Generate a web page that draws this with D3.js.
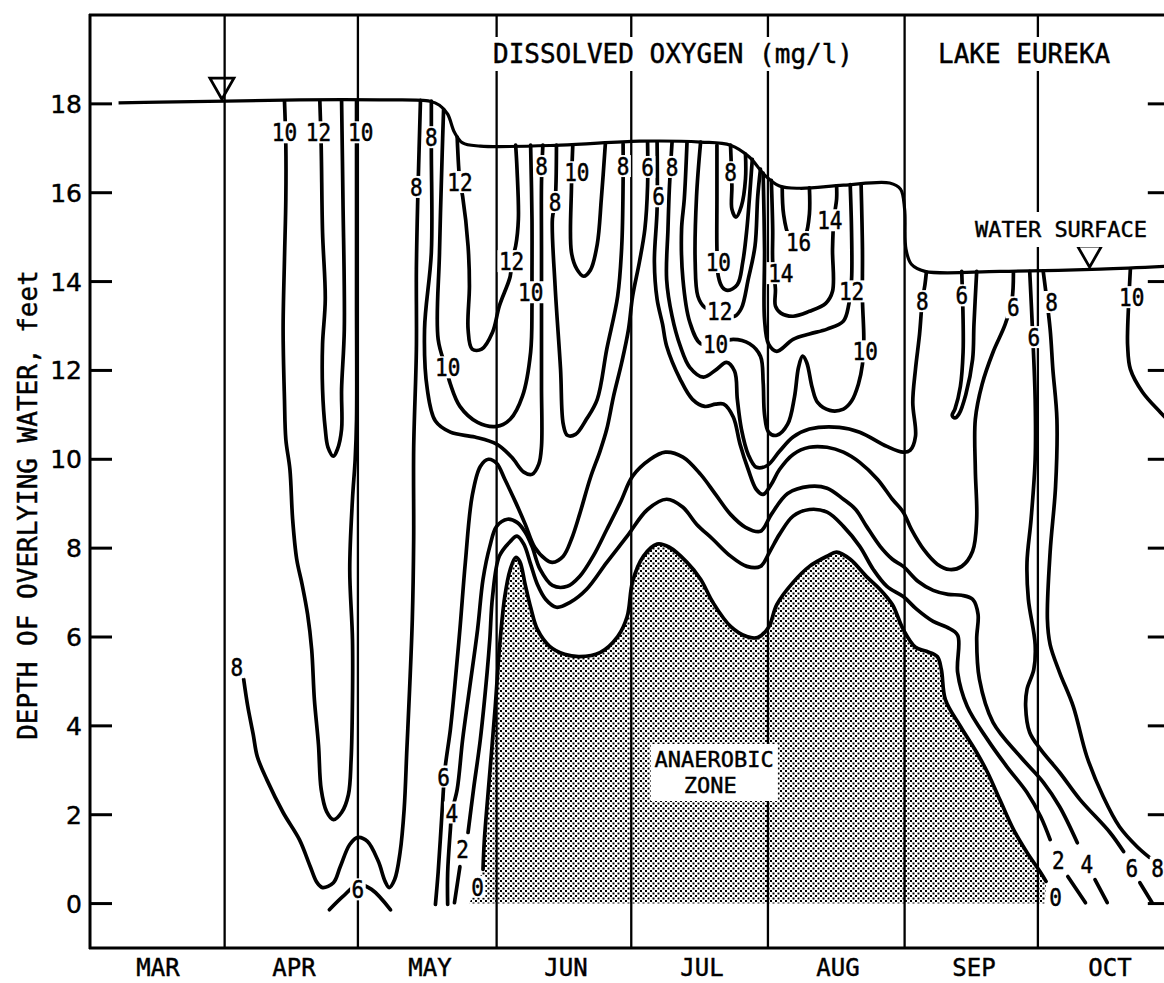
<!DOCTYPE html>
<html>
<head>
<meta charset="utf-8">
<script src="https://cdn.jsdelivr.net/npm/d3@7"></script>
<style>
  html, body { margin: 0; padding: 0; background: #fff; }
  svg { display: block; }
  text { font-family: "DejaVu Sans Mono", monospace; fill: #000; stroke: #000; stroke-width: 0.45px; }
</style>
</head>
<body>
<svg id="chart" width="1164" height="983"></svg>
<script>
// ---- Axes data -------------------------------------------------------------
// x is time in months from 1 March (MAR = 0..1, APR = 1..2, ...), y is depth of overlying water in feet
const months = ["MAR", "APR", "MAY", "JUN", "JUL", "AUG", "SEP", "OCT"];
const depthTicks = [0, 2, 4, 6, 8, 10, 12, 14, 16, 18];
const samplingDates = [0.99, 1.97, 2.99, 3.98, 4.985, 5.99, 6.97];

// ---- Water surface (depth of overlying water, ft) -------------------------
const waterSurface = [[0.21,18.02],[0.51,18.04],[1.00,18.06],[1.54,18.09],[2.13,18.09],[2.50,18.06],[2.57,17.97],[2.63,17.77],[2.68,17.36],[2.74,17.12],[2.87,17.05],[3.46,17.07],[4.04,17.16],[4.49,17.14],[4.71,17.07],[4.85,16.80],[4.96,16.40],[5.07,16.15],[5.22,16.10],[5.54,16.17],[5.88,16.22],[5.96,16.08],[5.99,15.63],[6.00,14.73],[6.04,14.39],[6.14,14.23],[6.69,14.23],[7.43,14.28],[7.94,14.35]];
const surfaceMarks = [[0.97, 18.06], [7.35, 14.28]];

// ---- Dissolved-oxygen isopleths (mg/l) ------------------------------------
const do10Apr = [[1.43,18.07],[1.44,17.07],[1.44,15.86],[1.43,14.50],[1.42,12.93],[1.43,11.35],[1.44,10.45],[1.47,9.77],[1.49,8.65],[1.52,7.75],[1.56,7.18],[1.60,6.51],[1.63,5.72],[1.65,4.59],[1.68,3.58],[1.70,2.57],[1.74,2.07],[1.79,1.89],[1.85,2.05],[1.90,2.45],[1.92,3.24],[1.93,4.59],[1.93,5.95],[1.91,7.52],[1.93,9.10],[1.95,10.0],[1.96,10.90],[1.96,13.60],[1.96,15.86],[1.96,17.07],[1.96,18.07]];
const do12Apr = [[1.69,18.07],[1.70,17.05],[1.71,15.11],[1.73,13.60],[1.71,12.59],[1.71,11.58],[1.73,10.68],[1.75,10.27],[1.79,10.07],[1.82,10.23],[1.85,10.68],[1.85,11.58],[1.87,12.93],[1.86,15.86],[1.85,18.07]];
const do8Apr = [[1.13,5.05],[1.16,4.44],[1.20,3.81],[1.23,3.31],[1.30,2.79],[1.42,2.05],[1.54,1.44],[1.62,0.83],[1.67,0.47],[1.71,0.36],[1.79,0.47],[1.84,0.83],[1.91,1.33],[1.97,1.49],[2.04,1.40],[2.12,0.95],[2.17,0.50],[2.20,0.36],[2.24,0.54],[2.28,1.15],[2.31,2.12],[2.33,3.47],[2.35,4.82],[2.37,6.40],[2.38,8.20],[2.38,10.23],[2.40,12.48],[2.40,14.28],[2.41,15.86],[2.42,16.98],[2.43,18.08]];
const do6Apr = [[1.76,-0.14],[1.86,0.16],[1.97,0.43],[2.07,0.32],[2.21,-0.14]];
const do8May = [[2.51,18.06],[2.51,16.91],[2.51,14.66],[2.46,12.93],[2.48,11.58],[2.54,10.86],[2.65,10.61],[2.83,10.50],[2.99,10.34],[3.10,10.05],[3.19,9.71],[3.25,9.66],[3.30,9.89],[3.32,10.29],[3.32,11.64],[3.32,13.15],[3.32,14.73],[3.32,16.24],[3.33,17.07]];
const do10May = [[2.60,17.87],[2.59,16.91],[2.57,14.66],[2.56,12.70],[2.62,12.03],[2.65,11.69],[2.72,11.19],[2.85,10.83],[2.99,10.74],[3.09,10.90],[3.18,11.42],[3.24,12.41],[3.25,13.45],[3.25,14.05],[3.25,15.41],[3.24,17.07]];
const do12May = [[2.70,17.25],[2.72,16.24],[2.74,15.92],[2.78,14.80],[2.79,13.90],[2.78,12.93],[2.81,12.48],[2.88,12.48],[2.96,12.86],[3.01,13.45],[3.09,14.12],[3.10,14.46],[3.13,14.80],[3.15,15.41],[3.14,16.53],[3.13,17.07]];
const do8Jun = [[3.43,17.07],[3.42,15.79],[3.40,15.41],[3.42,13.90],[3.46,12.03],[3.48,10.79],[3.51,10.54],[3.57,10.56],[3.65,10.90],[3.73,11.35],[3.80,12.48],[3.88,13.67],[3.91,14.80],[3.92,16.24],[3.92,17.10]];
const do10Jun = [[3.55,17.07],[3.54,16.08],[3.54,14.66],[3.58,14.28],[3.63,14.12],[3.68,14.26],[3.73,14.84],[3.76,15.86],[3.79,17.12]];
const do6Jun = [[2.54,-0.02],[2.56,0.70],[2.59,2.12],[2.61,3.02],[2.65,3.92],[2.68,4.82],[2.72,6.17],[2.76,7.68],[2.81,9.17],[2.87,9.84],[2.93,10.0],[2.99,9.91],[3.05,9.55],[3.13,9.03],[3.20,8.54],[3.27,8.02],[3.35,7.75],[3.40,7.68],[3.48,7.82],[3.54,8.20],[3.60,8.76],[3.68,9.59],[3.75,10.18],[3.80,10.68],[3.85,11.42],[3.91,12.18],[3.96,12.93],[3.99,13.67],[4.04,14.44],[4.08,15.18],[4.10,16.15],[4.10,17.14]];
const do4 = [[2.63,-0.02],[2.63,0.70],[2.65,1.67],[2.66,2.05],[2.70,2.57],[2.74,3.69],[2.79,4.82],[2.85,6.17],[2.89,7.30],[2.94,8.04],[2.99,8.49],[3.07,8.65],[3.14,8.58],[3.20,8.36],[3.25,8.04],[3.31,7.52],[3.40,7.16],[3.51,7.14],[3.60,7.36],[3.70,7.82],[3.80,8.42],[3.90,9.03],[3.99,9.62],[4.12,10.0],[4.23,10.16],[4.36,10.05],[4.49,9.66],[4.60,9.21],[4.71,8.76],[4.82,8.47],[4.93,8.38],[5.01,8.76],[5.13,9.23],[5.29,9.39],[5.42,9.35],[5.54,9.10],[5.63,8.87],[5.71,8.49],[5.81,8.04],[5.90,7.75],[5.98,7.59],[6.09,7.25],[6.20,7.05],[6.31,6.96],[6.41,6.94],[6.49,6.85],[6.53,6.51],[6.52,5.95],[6.54,5.05],[6.64,4.08],[6.84,3.31],[7.01,2.73],[7.13,2.18],[7.26,1.37]];
const do2 = [[2.78,1.60],[2.82,2.57],[2.87,3.69],[2.92,5.20],[2.94,5.95],[2.96,6.91],[3.01,7.82],[3.09,8.15],[3.14,8.27],[3.19,8.09],[3.24,7.64],[3.29,7.18],[3.35,6.85],[3.43,6.67],[3.53,6.78],[3.65,7.07],[3.80,7.68],[3.95,8.27],[4.10,8.87],[4.24,9.10],[4.36,8.92],[4.46,8.54],[4.58,8.20],[4.71,7.82],[4.83,7.59],[4.93,7.59],[5.00,7.93],[5.07,8.31],[5.17,8.72],[5.29,8.87],[5.42,8.81],[5.54,8.49],[5.66,8.04],[5.76,7.52],[5.86,7.14],[5.98,6.91],[6.08,6.62],[6.20,6.35],[6.30,6.22],[6.38,6.04],[6.38,5.20],[6.45,4.44],[6.60,3.69],[6.74,3.09],[6.89,2.50],[6.99,1.96],[7.06,1.44]];
const do0 = [[2.89,0.77],[2.90,1.44],[2.94,2.95],[2.98,4.44],[3.01,5.72],[3.05,6.91],[3.09,7.52],[3.13,7.79],[3.16,7.70],[3.20,7.18],[3.24,6.67],[3.29,6.17],[3.38,5.79],[3.49,5.61],[3.60,5.56],[3.75,5.65],[3.88,6.01],[3.95,6.46],[3.99,7.25],[4.07,7.82],[4.17,8.09],[4.26,8.02],[4.39,7.68],[4.49,7.30],[4.58,6.78],[4.71,6.24],[4.83,6.01],[4.91,5.99],[4.99,6.22],[5.05,6.73],[5.17,7.23],[5.29,7.59],[5.42,7.82],[5.49,7.91],[5.59,7.75],[5.71,7.36],[5.81,7.07],[5.90,6.73],[5.98,6.17],[6.07,5.77],[6.15,5.68],[6.23,5.56],[6.26,5.27],[6.29,4.59],[6.40,3.99],[6.52,3.40],[6.60,2.95],[6.69,2.34],[6.79,1.67],[6.89,1.15],[6.99,0.70],[7.03,0.50]];
const do6Jul = [[4.17,17.14],[4.17,15.63],[4.15,14.44],[4.17,13.60],[4.21,13.04],[4.24,12.55],[4.34,11.80],[4.43,11.35],[4.52,11.19],[4.60,11.24],[4.66,11.24],[4.73,10.95],[4.78,10.34],[4.84,9.77],[4.90,9.32],[4.95,9.21],[5.01,9.44],[5.07,9.77],[5.17,10.11],[5.29,10.27],[5.42,10.27],[5.54,10.16],[5.66,9.93],[5.79,9.55],[5.90,9.10],[5.98,8.81],[6.04,8.42],[6.13,7.97],[6.23,7.64],[6.32,7.52],[6.41,7.59],[6.49,7.93],[6.52,8.65],[6.51,9.77],[6.51,10.90],[6.56,11.69],[6.64,12.41],[6.73,13.04],[6.78,13.60],[6.79,14.21]];
const do8Jul = [[4.28,17.14],[4.26,16.08],[4.25,15.18],[4.24,14.05],[4.28,13.22],[4.34,12.55],[4.41,12.07],[4.51,11.85],[4.61,12.03],[4.68,12.18],[4.74,11.98],[4.76,11.35],[4.79,10.68],[4.84,10.11],[4.90,9.82],[4.98,9.86],[5.07,10.18],[5.17,10.50],[5.29,10.68],[5.51,10.72],[5.66,10.61],[5.86,10.29],[5.98,10.16],[6.03,10.20],[6.07,10.52],[6.05,11.28],[6.07,12.03],[6.10,12.82],[6.12,13.56],[6.14,13.94],[6.15,14.21]];
const do10Jul = [[4.39,17.14],[4.37,15.86],[4.35,15.18],[4.36,14.05],[4.41,13.09],[4.49,12.60],[4.60,12.60],[4.73,12.70],[4.85,12.60],[4.93,12.32],[4.95,11.73],[4.96,11.01],[4.99,10.61],[5.05,10.54],[5.13,10.79],[5.18,11.40],[5.21,12.07],[5.24,12.32],[5.27,12.18],[5.31,11.62],[5.35,11.28],[5.44,11.10],[5.54,11.13],[5.60,11.31],[5.65,11.69],[5.68,12.14],[5.69,12.70],[5.68,13.60],[5.68,14.73],[5.67,16.19]];
const do12Jul = [[4.49,17.14],[4.46,15.92],[4.45,14.44],[4.47,13.67],[4.52,13.42],[4.62,13.32],[4.74,13.22],[4.79,13.40],[4.84,14.05],[4.89,14.80],[4.91,15.92],[4.93,16.53]];
const do10JulInner = [[4.61,17.07],[4.61,15.86],[4.61,14.73],[4.62,14.12],[4.65,13.87],[4.69,13.80],[4.76,13.93],[4.80,14.44],[4.83,15.18],[4.85,15.92],[4.87,16.75]];
const do8JulInner = [[4.71,17.07],[4.72,16.15],[4.72,15.63],[4.75,15.45],[4.79,15.70],[4.82,16.31],[4.82,16.87]];
const do12Aug = [[4.95,16.44],[4.96,14.73],[4.96,13.15],[4.99,12.59],[5.05,12.43],[5.17,12.70],[5.29,12.82],[5.42,12.93],[5.54,13.11],[5.58,13.49],[5.60,14.05],[5.60,15.11],[5.59,16.18]];
const do14Aug = [[5.01,16.28],[5.02,15.18],[5.02,14.44],[5.04,13.83],[5.04,13.45],[5.08,13.29],[5.17,13.22],[5.29,13.33],[5.41,13.51],[5.46,13.78],[5.46,14.73],[5.47,15.41],[5.49,15.86],[5.49,16.15]];
const do16Aug = [[5.09,16.12],[5.10,15.52],[5.14,15.02],[5.21,14.82],[5.26,15.02],[5.29,15.52],[5.29,16.11]];
const do6Sep = [[6.41,14.23],[6.42,13.15],[6.42,12.41],[6.40,11.64],[6.36,11.13],[6.34,10.99],[6.36,10.93],[6.39,11.02],[6.44,11.46],[6.49,12.25],[6.50,13.04],[6.52,14.23]];
const do6Oct = [[6.91,14.23],[6.93,12.93],[6.95,11.35],[6.95,10.0],[6.92,8.65],[6.89,7.68],[6.90,6.85],[6.95,5.83],[6.94,5.27],[6.89,4.82],[6.88,4.44],[6.91,3.85],[6.99,3.47],[7.13,2.95],[7.28,2.34],[7.50,1.60],[7.60,1.17]];
const do8Oct = [[7.01,14.21],[7.06,12.93],[7.08,12.03],[7.11,10.90],[7.10,9.39],[7.06,7.91],[7.04,6.40],[7.06,5.83],[7.13,5.20],[7.23,4.44],[7.33,3.31],[7.45,2.41],[7.57,1.73],[7.70,1.28],[7.79,1.04]];
const do10Oct = [[7.65,14.28],[7.63,12.93],[7.63,12.55],[7.65,12.03],[7.74,11.51],[7.87,11.06],[7.98,10.72]];
// short broken ends of isopleths near the bottom
const do2MayEnd = [[2.72,0.83],[2.68,0.02]];
const do2OctEnd = [[7.19,0.61],[7.32,0.02]];
const do4OctEnd = [[7.39,0.54],[7.48,0.02]];
const do6OctEnd = [[7.72,0.47],[7.81,0.02]];

// isopleth value labels: [time, depth, value]
const isoplethLabels = [
  [1.43,17.36,"10"],[1.68,17.36,"12"],[1.99,17.36,"10"],[1.08,5.32,"8"],[1.97,0.32,"6"],
  [2.51,17.25,"8"],[2.40,16.13,"8"],[2.72,16.24,"12"],[2.63,12.07,"10"],[2.60,2.86,"6"],[2.66,2.05,"4"],[2.74,1.22,"2"],[2.85,0.38,"0"],
  [3.10,14.46,"12"],[3.24,13.76,"10"],[3.32,16.60,"8"],[3.42,15.79,"8"],[3.58,16.46,"10"],[3.92,16.60,"8"],
  [4.10,16.58,"6"],[4.28,16.58,"8"],[4.18,15.92,"6"],[4.71,16.46,"8"],[4.62,14.44,"10"],[4.63,13.33,"12"],[4.60,12.60,"10"],
  [5.44,15.38,"14"],[5.21,14.89,"16"],[5.08,14.19,"14"],[5.60,13.78,"12"],[5.70,12.43,"10"],
  [6.12,13.56,"8"],[6.41,13.69,"6"],[6.79,13.42,"6"],[6.94,12.75,"6"],[7.07,13.54,"8"],[7.66,13.65,"10"],
  [7.12,0.99,"2"],[7.33,0.90,"4"],[7.66,0.81,"6"],[7.85,0.81,"8"],[7.10,0.16,"0"]
];

const isopleths = [do10Apr, do12Apr, do8Apr, do6Apr, do8May, do10May, do12May, do8Jun, do10Jun,
  do6Jun, do4, do2, do0, do6Jul, do8Jul, do10Jul, do12Jul, do10JulInner, do8JulInner,
  do12Aug, do14Aug, do16Aug, do6Sep, do6Oct, do8Oct, do10Oct,
  do2MayEnd, do2OctEnd, do4OctEnd, do6OctEnd];

// ---- Drawing --------------------------------------------------------------
const svg = d3.select("#chart");
const x = d3.scaleLinear().domain([0, 7.94]).range([90, 1169.8]);
const y = d3.scaleLinear().domain([-1, 20]).range([948, 15]);

const defs = svg.append("defs");
const pat = defs.append("pattern").attr("id", "stipple")
  .attr("patternUnits", "userSpaceOnUse").attr("width", 5).attr("height", 5);
pat.append("rect").attr("x", 0).attr("y", 0).attr("width", 2).attr("height", 2).attr("fill", "#000");
pat.append("rect").attr("x", 2.5).attr("y", 2.5).attr("width", 2).attr("height", 2).attr("fill", "#000");
defs.append("clipPath").attr("id", "plotClip").append("rect")
  .attr("x", x(0)).attr("y", y(20)).attr("width", x(7.94) - x(0)).attr("height", y(-1) - y(20));

const curve = d3.line().x(p => x(p[0])).y(p => y(p[1])).curve(d3.curveCatmullRom.alpha(0.5));
const plot = svg.append("g").attr("clip-path", "url(#plotClip)");

// anaerobic zone: below the 0 mg/l isopleth, down to the lake bottom
const zonePath = curve(do0) + `L${x(7.02)},${y(0)}L${x(2.79)},${y(0)}Z`;
plot.append("path").attr("d", zonePath).attr("fill", "url(#stipple)").attr("stroke", "none");

// sampling dates
plot.selectAll("line.sample").data(samplingDates).join("line")
  .attr("class", "sample")
  .attr("x1", d => x(d)).attr("x2", d => x(d))
  .attr("y1", y(20)).attr("y2", y(-1))
  .attr("stroke", "#000").attr("stroke-width", 2.3);

// isopleths
plot.selectAll("path.iso").data(isopleths).join("path")
  .attr("class", "iso")
  .attr("d", d => curve(d))
  .attr("fill", "none").attr("stroke", "#000").attr("stroke-width", 3.7)
  .attr("stroke-linejoin", "round").attr("stroke-linecap", "round");

// water surface
plot.append("path").attr("d", curve(waterSurface))
  .attr("fill", "none").attr("stroke", "#000").attr("stroke-width", 3.2);

// water surface markers
plot.selectAll("path.mark").data(surfaceMarks).join("path")
  .attr("class", "mark")
  .attr("d", d => {
    const cx = x(d[0]), cy = y(d[1]) - 2;
    return `M${cx},${cy}L${cx - 12},${cy - 21}L${cx + 12},${cy - 21}Z`;
  })
  .attr("fill", "none").attr("stroke", "#000").attr("stroke-width", 2.8).attr("stroke-linejoin", "miter");

// isopleth labels with a white gap behind them
const lab = plot.selectAll("g.lab").data(isoplethLabels).join("g")
  .attr("class", "lab")
  .attr("transform", d => `translate(${x(d[0])},${y(d[1])})`);
lab.append("rect")
  .attr("x", d => -(d[2].length * 12.6 + 3) / 2).attr("y", -11)
  .attr("width", d => d[2].length * 12.6 + 3).attr("height", 22)
  .attr("fill", "#fff");
lab.append("text")
  .attr("transform", "scale(1,1.2)")
  .attr("text-anchor", "middle").attr("dy", "0.36em")
  .attr("font-size", 21)
  .text(d => d[2]);

// boxed annotation text (white box interrupts the lines below it)
function boxedText(parent, lines, size, anchor, padX, padY) {
  const g = parent.append("g");
  const r = g.append("rect").attr("fill", "#fff");
  lines.forEach(l => {
    g.append("text").attr("x", l[0]).attr("y", l[1]).attr("font-size", size)
      .attr("text-anchor", anchor).text(l[2]);
  });
  const bb = g.node().getBBox();
  r.attr("x", bb.x - padX).attr("y", bb.y - padY)
   .attr("width", bb.width + 2 * padX).attr("height", bb.height + 2 * padY);
  return g;
}
const ann = svg.append("g");
boxedText(ann, [[493, 63, "DISSOLVED OXYGEN (mg/l)"]], 26, "start", 5, 2);
boxedText(ann, [[938, 63, "LAKE EUREKA"]], 26, "start", 5, 2);
boxedText(ann, [[1061, 237, "WATER SURFACE"]], 22, "middle", 4, 5);
boxedText(ann, [[x(4.59), 767, "ANAEROBIC"], [x(4.59) - 4, 793, "ZONE"]], 22, "middle", 4, 3);

// frame and axes
const axisG = svg.append("g");
axisG.append("line").attr("x1", x(0)).attr("x2", x(0)).attr("y1", y(20) - 1).attr("y2", y(-1) + 1)
  .attr("stroke", "#000").attr("stroke-width", 3);
axisG.append("line").attr("x1", x(0) - 1).attr("x2", x(7.94)).attr("y1", y(20)).attr("y2", y(20))
  .attr("stroke", "#000").attr("stroke-width", 3);
axisG.append("line").attr("x1", x(0) - 1).attr("x2", x(7.94)).attr("y1", y(-1)).attr("y2", y(-1))
  .attr("stroke", "#000").attr("stroke-width", 3);
axisG.append("line").attr("x1", x(7.94)).attr("x2", x(7.94)).attr("y1", y(20)).attr("y2", y(-1))
  .attr("stroke", "#000").attr("stroke-width", 3);

axisG.selectAll("line.lt").data(depthTicks).join("line")
  .attr("class", "lt")
  .attr("x1", x(0)).attr("x2", x(0) + 22).attr("y1", d => y(d)).attr("y2", d => y(d))
  .attr("stroke", "#000").attr("stroke-width", 3);
axisG.selectAll("line.rt").data(depthTicks).join("line")
  .attr("class", "rt")
  .attr("x1", x(7.94) - 22).attr("x2", x(7.94)).attr("y1", d => y(d)).attr("y2", d => y(d))
  .attr("stroke", "#000").attr("stroke-width", 3);
axisG.selectAll("text.tl").data(depthTicks).join("text")
  .attr("class", "tl")
  .attr("x", x(0) - 8).attr("y", d => y(d)).attr("dy", "0.36em")
  .attr("text-anchor", "end")
  .style("font-family", "'DejaVu Sans', sans-serif").attr("font-size", 25)
  .text(d => d);

axisG.selectAll("text.month").data(months).join("text")
  .attr("class", "month")
  .attr("x", (d, i) => x(i + 0.5)).attr("y", 976)
  .attr("text-anchor", "middle").attr("font-size", 24)
  .text(d => d);

axisG.append("text")
  .attr("transform", "translate(37,505) rotate(-90)")
  .attr("text-anchor", "middle").attr("font-size", 26)
  .text("DEPTH OF OVERLYING WATER, feet");
</script>
</body>
</html>
